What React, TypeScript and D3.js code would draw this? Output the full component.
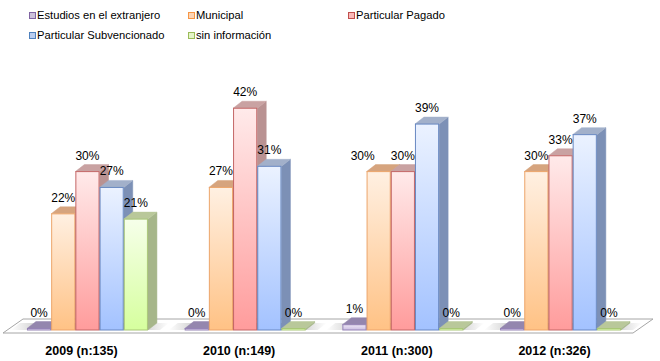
import React from 'react';
import * as d3 from 'd3';

const categories = ['2009 (n:135)', '2010 (n:149)', '2011 (n:300)', '2012 (n:326)'];
const seriesNames = ['Estudios en el extranjero', 'Municipal', 'Particular Pagado', 'Particular Subvencionado', 'sin información'];
const estudios = [0, 0, 0.01, 0];
const municipal = [0.22, 0.27, 0.30, 0.30];
const pagado = [0.30, 0.42, 0.30, 0.33];
const subvencionado = [0.27, 0.31, 0.39, 0.37];
const sinInfo = [0.21, 0, 0, 0];
const seriesValues = [estudios, municipal, pagado, subvencionado, sinInfo];

// front gradient top/bottom, stroke, top face, side face, legend fill
const palette = [
  {light: '#eee8f6', dark: '#cbbde2', stroke: '#9583b6', top: '#9486ae', side: '#8a7ca6', legend: '#ccc1da', legendStroke: '#8064a2'},
  {light: '#fff0e2', dark: '#ffc285', stroke: '#eca56a', top: '#d6a47e', side: '#c99a76', legend: '#fcd5b5', legendStroke: '#f79646'},
  {light: '#ffeaea', dark: '#ff9c9c', stroke: '#c46666', top: '#c9a2a2', side: '#b99292', legend: '#f9b9b8', legendStroke: '#c0504d'},
  {light: '#ebf2ff', dark: '#a3c2ff', stroke: '#6888c2', top: '#a2b0ca', side: '#7c90b6', legend: '#b9cdf0', legendStroke: '#4f81bd'},
  {light: '#f6ffea', dark: '#d6ff9e', stroke: '#a9c777', top: '#b9c89a', side: '#a6b68a', legend: '#e4f5c8', legendStroke: '#9bbb59'},
];

const W = 660, H = 361;
const DX = 9, DY = -7;
const font = "'Liberation Sans', Arial, sans-serif";

export default function App() {
  const x0 = d3.scaleBand<string>().domain(categories).range([8.6, 639.4]).paddingInner(0.233).paddingOuter(0.1165);
  const x1 = d3.scaleBand<string>().domain(seriesNames).range([0, x0.bandwidth()]);
  const y = d3.scaleLinear().domain([0, 0.45]).range([330, 330 - 0.45 * 528]);
  const base = y(0);
  const pct = d3.format('.0%');

  const poly = (pts: number[][]) => 'M' + pts.map(p => p.join(',')).join('L') + 'Z';
  const barTop = (v: number) => Math.min(y(v), base - 1.5);

  const legendRows = [
    [{i: 0, x: 29}, {i: 1, x: 188}, {i: 2, x: 348}],
    [{i: 3, x: 29}, {i: 4, x: 188}],
  ];

  // value labels, nudging a label left when its neighbour sits at the same height
  const labels: {key: string, x: number, y: number, text: string}[] = [];
  categories.forEach((c, ci) => {
    const row = seriesNames.map((s, si) => {
      const v = seriesValues[si][ci];
      return {key: c + s, x: x0(c)! + x1(s)! + x1.bandwidth() / 2, y: barTop(v) + DY - 5, text: pct(v)};
    });
    for (let i = 0; i < row.length - 1; i++) {
      if (Math.abs(row[i].y - row[i + 1].y) < 10 && row[i].y < base - 20) row[i].x -= 16;
    }
    labels.push(...row);
  });

  return (
    <svg width={W} height={H} style={{position: 'absolute', left: 0, top: 0, fontFamily: font}}>
      <defs>
        {palette.map((c, i) => (
          <linearGradient key={i} id={'front' + i} x1="0" y1="0" x2="0" y2="1">
            <stop offset="0%" stopColor={c.light}/>
            <stop offset="100%" stopColor={c.dark}/>
          </linearGradient>
        ))}
        <linearGradient id="shadow" x1="0" y1="0" x2="1" y2="0">
          <stop offset="0%" stopColor="#888" stopOpacity="0"/>
          <stop offset="25%" stopColor="#888" stopOpacity="0.6"/>
          <stop offset="75%" stopColor="#888" stopOpacity="0.6"/>
          <stop offset="100%" stopColor="#888" stopOpacity="0"/>
        </linearGradient>
      </defs>
      <rect width={W} height={H} fill="#fff"/>

      {/* legend */}
      {legendRows.map((row, r) => row.map(item => (
        <g key={r + '-' + item.i}>
          <rect x={item.x + 0.5} y={12.5 + r * 20} width={6} height={6}
                fill={palette[item.i].legend} stroke={palette[item.i].legendStroke} strokeWidth={1}/>
          <text x={item.x + 8} y={19 + r * 20} fontSize={11.2} fill="#000">{seriesNames[item.i]}</text>
        </g>
      )))}

      {/* floor */}
      <path d={poly([[3, 333], [633, 333], [653, 319], [23, 319]])} fill="#fff" stroke="#a6a6a6" strokeWidth={1}/>
      {categories.map(c => {
        const gx = x0(c)!;
        const w = x0.bandwidth();
        return <path key={'sh' + c} fill="url(#shadow)"
                     d={poly([[gx - 16, base], [gx + w + 12, base], [gx + w + 12 + DX, base + DY], [gx - 16 + DX, base + DY]])}/>;
      })}

      {/* bars */}
      {categories.map((c, ci) => (
        <g key={c}>
          {seriesNames.map((s, si) => {
            const v = seriesValues[si][ci];
            const bx = x0(c)! + x1(s)!;
            const bw = x1.bandwidth();
            const top = barTop(v);
            const col = palette[si];
            return (
              <g key={s}>
                <path d={poly([[bx + bw, top], [bx + bw + DX, top + DY], [bx + bw + DX, base + DY], [bx + bw, base]])}
                      fill={col.side} stroke={col.side} strokeWidth={0.5}/>
                <path d={poly([[bx, top], [bx + DX, top + DY], [bx + bw + DX, top + DY], [bx + bw, top]])}
                      fill={col.top} stroke={col.top} strokeWidth={0.5}/>
                <rect x={bx + 0.5} y={top} width={bw - 1} height={base - top}
                      fill={'url(#front' + si + ')'} stroke={col.stroke} strokeWidth={1}/>
              </g>
            );
          })}
        </g>
      ))}

      {/* value labels */}
      {labels.map(l => (
        <text key={'l' + l.key} x={l.x} y={l.y} textAnchor="middle" fontSize={12} fill="#000">{l.text}</text>
      ))}

      {/* category labels */}
      {categories.map(c => (
        <text key={'c' + c} x={x0(c)! + x0.bandwidth() / 2 - 6} y={355} textAnchor="middle"
              fontSize={12.5} fontWeight="bold" fill="#000">{c}</text>
      ))}
    </svg>
  );
}
